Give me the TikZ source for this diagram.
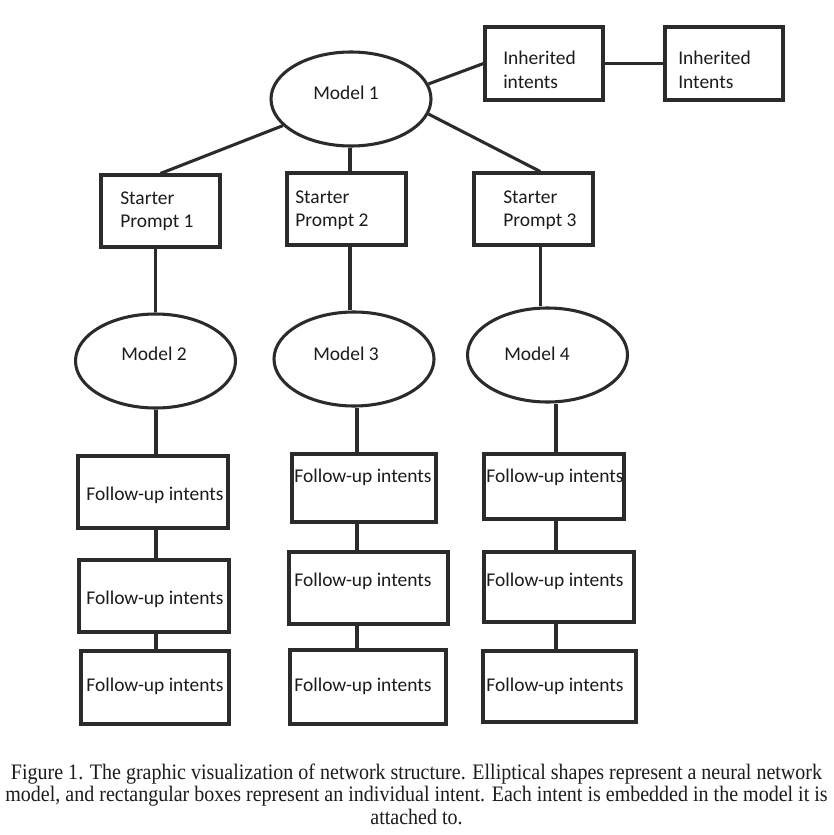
\documentclass[tikz,border=0pt]{standalone}
\usepackage{fontspec}
\setmainfont{Carlito}
\newfontfamily\capfont{Liberation Serif}
\usetikzlibrary{shapes.geometric,fit}
\definecolor{ln}{HTML}{2B2B2B}
\definecolor{tx}{HTML}{1C1C1C}
\newcommand\capline[1]{\scalebox{1.088}[1.2]{#1}}
\begin{document}
\begin{tikzpicture}[x=0.75pt,y=-0.75pt,
  box/.style={draw=ln, line width=2.3pt, rectangle, inner sep=0pt},
  oval/.style={draw=ln, line width=2.3pt, ellipse, inner sep=0pt, minimum width=120pt, minimum height=70.5pt},
  lbl/.style={font=\fontsize{14.6}{17.8}\selectfont, text=tx, inner sep=0pt},
  lw/.style={lbl, anchor=base west},
  lc/.style={lbl, anchor=base},
  con/.style={draw=ln, line width=2.3pt},
  captext/.style={font=\capfont\fontsize{13.8}{17}\selectfont, text=tx, inner sep=0pt, anchor=base}]
\useasboundingbox[fill=white] (0,0) rectangle (833,835);
% top level
\node[oval] (m1) at (351,99) {};
\node[lw] (m1t) at (313,99) {Model 1};
\node[box, fit={(485,27) (603,100)}] (ih1) {};
\node[lw] (ih1a) at (503,64) {Inherited};
\node[lw] (ih1b) at (503,88) {intents};
\node[box, fit={(665,27) (783,100)}] (ih2) {};
\node[lw] (ih2a) at (678,64) {Inherited};
\node[lw] (ih2b) at (678,88) {Intents};
% starter prompts
\node[box, fit={(101,175) (220,247)}] (sp1) {};
\node[lw] (sp1a) at (120,204) {Starter};
\node[lw] (sp1b) at (120,227) {Prompt 1};
\node[box, fit={(287,173) (406,245)}] (sp2) {};
\node[lw] (sp2a) at (295,203) {Starter};
\node[lw] (sp2b) at (295,226) {Prompt 2};
\node[box, fit={(474,173) (593,245)}] (sp3) {};
\node[lw] (sp3a) at (503,203) {Starter};
\node[lw] (sp3b) at (503,226) {Prompt 3};
% models
\node[oval] (m2) at (155.5,361) {};
\node[lw] (m2t) at (121,360) {Model 2};
\node[oval] (m3) at (354,359) {};
\node[lw] (m3t) at (313,360) {Model 3};
\node[oval] (m4) at (547.5,355) {};
\node[lw] (m4t) at (504,360) {Model 4};
% follow-up column 1
\node[box, fit={(78,456) (228,528)}] (f2a) {};
\node[lc] (f2at) at (155,500) {Follow-up intents};
\node[box, fit={(79,560) (229,632)}] (f2b) {};
\node[lc] (f2bt) at (155,604) {Follow-up intents};
\node[box, fit={(81,651) (229,724)}] (f2c) {};
\node[lc] (f2ct) at (155,691) {Follow-up intents};
% column 2
\node[box, fit={(292,454) (436,522)}] (f3a) {};
\node[lc] (f3at) at (363,482) {Follow-up intents};
\node[box, fit={(289,552) (448,624)}] (f3b) {};
\node[lc] (f3bt) at (363,586) {Follow-up intents};
\node[box, fit={(290,650) (446,724)}] (f3c) {};
\node[lc] (f3ct) at (363,691) {Follow-up intents};
% column 3
\node[box, fit={(484,454) (624,519)}] (f4a) {};
\node[lc] (f4at) at (555,482) {Follow-up intents};
\node[box, fit={(484,552) (634,622)}] (f4b) {};
\node[lc] (f4bt) at (555,586) {Follow-up intents};
\node[box, fit={(483,651) (636,722)}] (f4c) {};
\node[lc] (f4ct) at (555,691) {Follow-up intents};
% connectors
\coordinate (c0) at (350,0);
\coordinate (c1) at (156,0);
\coordinate (c2) at (357,0);
\coordinate (c3) at (556,0);
\draw[con] (m1.11) -- (ih1.west);
\draw[con] (ih1.east) -- (ih2.west);
\draw[con] (m1) -- (sp1.north);
\draw[con] (c0 |- m1.south) -- (c0 |- sp2.north);
\draw[con] (m1.-11) -- ([xshift=5pt]sp3.north);
\draw[con] (m2.north |- sp1.south) -- (m2.north);
\draw[con] (c0 |- sp2.south) -- (c0 |- m3.north);
\draw[con] ([xshift=5pt]sp3.south) -- ([xshift=5pt]sp3.south |- m4.north);
\draw[con] (c1 |- m2.south) -- (c1 |- f2a.north);
\draw[con] (c1 |- f2a.south) -- (c1 |- f2b.north);
\draw[con] (c1 |- f2b.south) -- (c1 |- f2c.north);
\draw[con] (c2 |- m3.south) -- (c2 |- f3a.north);
\draw[con] (c2 |- f3a.south) -- (c2 |- f3b.north);
\draw[con] (c2 |- f3b.south) -- (c2 |- f3c.north);
\draw[con] (c3 |- m4.south) -- (c3 |- f4a.north);
\draw[con] (c3 |- f4a.south) -- (c3 |- f4b.north);
\draw[con] (c3 |- f4b.south) -- (c3 |- f4c.north);
% caption
\node[captext] (cap1) at (416.5,779) {\capline{Figure 1. The graphic visualization of network structure. Elliptical shapes represent a neural network}};
\node[captext] (cap2) at (416.5,801) {\capline{model, and rectangular boxes represent an individual intent. Each intent is embedded in the model it is}};
\node[captext] (cap3) at (416.5,824) {\capline{attached to.}};
\end{tikzpicture}
\end{document}
